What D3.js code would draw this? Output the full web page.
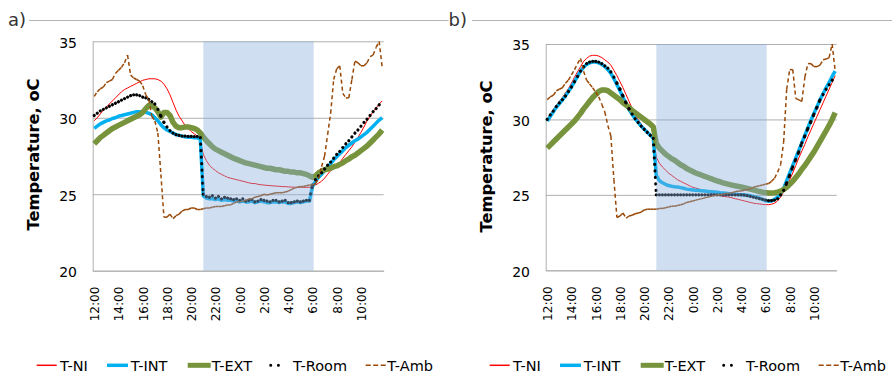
<!DOCTYPE html>
<html>
<head>
<meta charset="utf-8">
<script src="https://cdn.jsdelivr.net/npm/d3@7"></script>
<style>
body { margin: 0; background: #fff; }
svg { display: block; font-family: "DejaVu Sans", Verdana, sans-serif; }
</style>
</head>
<body>
<svg id="chart" width="892" height="389"></svg>
<script>
/* Two panels of room / panel temperatures over one day, read every 15 minutes
 * from 12:00 to 11:45 the next morning. The night (cooling) period is shaded.
 */

var timeLabels = ["12:00", "14:00", "16:00", "18:00", "20:00", "22:00",
                  "0:00", "2:00", "4:00", "6:00", "8:00", "10:00"];
var tickHours = [0, 2, 4, 6, 8, 10, 12, 14, 16, 18, 20, 22];   /* hours after 12:00 */
var stepHours = 0.25;                                            /* one reading per 15 min */
var nightHours = [9, 18.1];                                      /* shaded band, hours after 12:00 */
var yTicks = [20, 25, 30, 35];
var seriesNames = ["T-NI", "T-INT", "T-EXT", "T-Room", "T-Amb"];

/* panel a) */
var aNI = [29.8, 30.0, 30.25, 30.5, 30.7, 30.9, 31.1, 31.3, 31.5, 31.7,
    31.85, 31.95, 32.05, 32.15, 32.25, 32.35, 32.45, 32.5, 32.55, 32.55,
    32.55, 32.5, 32.4, 32.2, 31.9, 31.5, 31.0, 30.5, 30.1, 29.8,
    29.5, 29.3, 29.1, 28.95, 28.8, 28.5, 27.6, 27.2, 26.9, 26.7,
    26.55, 26.4, 26.3, 26.2, 26.1, 26.05, 26.0, 25.95, 25.9, 25.85,
    25.8, 25.75, 25.7, 25.7, 25.65, 25.62, 25.6, 25.58, 25.56, 25.55,
    25.53, 25.52, 25.5, 25.5, 25.48, 25.47, 25.46, 25.45, 25.45, 25.45,
    25.45, 25.45, 25.5, 25.6, 25.72, 25.85, 26.05, 26.3, 26.55, 26.7,
    26.85, 27.05, 27.35, 27.6, 27.85, 28.1, 28.4, 28.7, 29.05, 29.4,
    29.8, 30.1, 30.4, 30.65, 30.9, 31.1];
var aINT = [29.3, 29.45, 29.6, 29.7, 29.8, 29.85, 29.95, 30.0, 30.1, 30.15,
    30.2, 30.25, 30.3, 30.35, 30.4, 30.4, 30.4, 30.35, 30.3, 30.2,
    30.0, 29.8, 29.55, 29.35, 29.2, 29.1, 29.0, 28.9, 28.85, 28.8,
    28.75, 28.72, 28.72, 28.7, 28.7, 28.6, 24.9, 24.75, 24.7, 24.7,
    24.65, 24.7, 24.6, 24.65, 24.6, 24.6, 24.55, 24.6, 24.5, 24.55,
    24.5, 24.5, 24.55, 24.45, 24.5, 24.55, 24.5, 24.45, 24.45, 24.5,
    24.5, 24.45, 24.5, 24.5, 24.4, 24.4, 24.45, 24.5, 24.45, 24.5,
    24.55, 24.55, 25.5, 25.85, 26.1, 26.3, 26.55, 26.8, 27.0, 27.25,
    27.45, 27.65, 27.85, 28.05, 28.2, 28.35, 28.5, 28.6, 28.75, 28.9,
    29.05, 29.25, 29.45, 29.65, 29.85, 30.0];
var aEXT = [28.3, 28.5, 28.7, 28.85, 29.0, 29.15, 29.3, 29.4, 29.5, 29.6,
    29.7, 29.8, 29.9, 30.0, 30.1, 30.2, 30.35, 30.6, 30.8, 30.8,
    30.65, 30.4, 30.05, 30.35, 30.35, 30.15, 29.7, 29.45, 29.35, 29.35,
    29.4, 29.4, 29.35, 29.3, 29.2, 29.0, 28.75, 28.5, 28.3, 28.1,
    27.95, 27.85, 27.75, 27.65, 27.55, 27.45, 27.35, 27.28, 27.2, 27.12,
    27.05, 27.0, 26.95, 26.9, 26.85, 26.8, 26.75, 26.7, 26.7, 26.65,
    26.6, 26.6, 26.55, 26.5, 26.5, 26.45, 26.45, 26.4, 26.4, 26.35,
    26.3, 26.2, 26.1, 26.2, 26.4, 26.5, 26.6, 26.65, 26.7, 26.8,
    26.85, 26.95, 27.05, 27.2, 27.3, 27.45, 27.55, 27.7, 27.85, 28.0,
    28.15, 28.35, 28.55, 28.75, 28.95, 29.2];
var aRoom = [30.15, 30.3, 30.45, 30.55, 30.65, 30.75, 30.85, 30.95, 31.05, 31.15,
    31.25, 31.35, 31.45, 31.5, 31.5, 31.45, 31.35, 31.3, 31.2, 31.05,
    30.9, 30.55, 30.1, 29.7, 29.4, 29.15, 29.0, 28.9, 28.85, 28.8,
    28.8, 28.78, 28.78, 28.77, 28.77, 28.7, 25.0, 24.85, 24.8, 24.9,
    24.75, 24.85, 24.7, 24.8, 24.75, 24.7, 24.65, 24.7, 24.6, 24.7,
    24.55, 24.6, 24.65, 24.5, 24.55, 24.65, 24.6, 24.55, 24.5, 24.6,
    24.6, 24.5, 24.55, 24.6, 24.45, 24.45, 24.5, 24.55, 24.5, 24.55,
    24.6, 24.6, 25.6, 25.95, 26.2, 26.4, 26.65, 26.9, 27.1, 27.35,
    27.6, 27.8, 28.05, 28.3, 28.5, 28.75, 29.0, 29.2, 29.45, 29.7,
    29.9, 30.15, 30.4, 30.6, 30.85, 31.05];
var aAmb = [31.4, 31.7, 31.9, 32.0, 32.3, 32.4, 32.5, 32.9, 33.1, 33.3,
    33.6, 34.1, 32.8, 32.6, 32.5, 32.4, 32.1, 31.5, 31.2, 30.1,
    29.8, 29.0, 26.3, 23.5, 23.5, 23.7, 23.4, 23.6, 23.7, 23.9,
    24.0, 24.0, 24.1, 24.1, 24.0, 24.0, 24.05, 24.1, 24.1, 24.15,
    24.2, 24.2, 24.2, 24.25, 24.3, 24.3, 24.4, 24.5, 24.5, 24.55,
    24.6, 24.7, 24.7, 24.8, 24.85, 24.9, 25.0, 24.95, 25.0, 25.05,
    25.1, 25.1, 25.1, 25.15, 25.2, 25.3, 25.4, 25.45, 25.5, 25.5,
    25.55, 25.6, 25.6, 25.7, 26.0, 26.8, 27.5, 28.9, 30.3, 32.5,
    33.2, 33.4, 31.6, 31.3, 31.3, 32.5, 33.7, 33.6, 33.4, 33.4,
    33.6, 34.0, 34.1, 34.6, 35.0, 33.3];

/* panel b) */
var bNI = [30.0, 30.35, 30.65, 30.95, 31.2, 31.45, 31.75, 32.05, 32.4, 32.8,
    33.15, 33.5, 33.85, 34.05, 34.2, 34.25, 34.25, 34.2, 34.1, 33.95,
    33.8, 33.6, 33.25, 32.9, 32.5, 32.1, 31.65, 31.2, 30.75, 30.35,
    30.0, 29.7, 29.4, 29.15, 28.95, 28.75, 27.5, 27.1, 26.85, 26.65,
    26.45, 26.3, 26.15, 26.0, 25.9, 25.8, 25.7, 25.6, 25.5, 25.45,
    25.4, 25.3, 25.25, 25.2, 25.1, 25.05, 25.0, 24.95, 24.9, 24.88,
    24.85, 24.8, 24.75, 24.7, 24.65, 24.6, 24.55, 24.5, 24.45, 24.42,
    24.4, 24.37, 24.35, 24.35, 24.38, 24.45, 24.6, 24.85, 25.2, 25.6,
    26.0, 26.45, 26.95, 27.45, 27.9, 28.35, 28.85, 29.3, 29.75, 30.2,
    30.65, 31.1, 31.55, 32.0, 32.45, 32.9];
var bINT = [29.9, 30.2, 30.5, 30.8, 31.05, 31.3, 31.55, 31.85, 32.15, 32.5,
    32.85, 33.2, 33.45, 33.65, 33.75, 33.8, 33.8, 33.75, 33.65, 33.5,
    33.3, 33.05, 32.7, 32.3, 31.9, 31.45, 31.05, 30.65, 30.35, 30.05,
    29.8, 29.55, 29.35, 29.15, 28.95, 28.75, 26.3, 25.95, 25.8, 25.7,
    25.62, 25.57, 25.54, 25.52, 25.48, 25.44, 25.38, 25.35, 25.33, 25.31,
    25.29, 25.27, 25.25, 25.23, 25.21, 25.19, 25.17, 25.14, 25.12, 25.1,
    25.08, 25.06, 25.04, 25.02, 25.01, 25.0, 24.97, 24.94, 24.9, 24.85,
    24.78, 24.7, 24.62, 24.58, 24.6, 24.7, 24.85, 25.1, 25.45, 25.95,
    26.45, 26.95, 27.45, 27.95, 28.45, 28.95, 29.45, 29.95, 30.4, 30.85,
    31.3, 31.7, 32.1, 32.45, 32.85, 33.2];
var bEXT = [28.1, 28.3, 28.5, 28.7, 28.9, 29.1, 29.3, 29.5, 29.7, 29.9,
    30.15, 30.4, 30.7, 30.95, 31.2, 31.45, 31.65, 31.85, 31.95, 31.95,
    31.9, 31.75, 31.6, 31.45, 31.3, 31.1, 30.95, 30.8, 30.6, 30.45,
    30.3, 30.15, 30.0, 29.85, 29.7, 29.5, 28.4, 28.1, 27.9, 27.7,
    27.55, 27.4, 27.3, 27.15, 27.0, 26.9, 26.75, 26.65, 26.55, 26.45,
    26.38, 26.3, 26.22, 26.15, 26.08, 26.0, 25.93, 25.87, 25.8, 25.75,
    25.7, 25.65, 25.6, 25.56, 25.52, 25.48, 25.43, 25.38, 25.33, 25.28,
    25.22, 25.18, 25.15, 25.13, 25.12, 25.14, 25.18, 25.25, 25.35, 25.5,
    25.7, 25.9, 26.15, 26.4, 26.7, 26.95, 27.25, 27.55, 27.85, 28.2,
    28.55, 28.9, 29.25, 29.6, 30.0, 30.45];
var bRoom = [30.0, 30.3, 30.55, 30.85, 31.1, 31.3, 31.55, 31.85, 32.15, 32.5,
    32.85, 33.2, 33.5, 33.7, 33.8, 33.85, 33.85, 33.8, 33.7, 33.55,
    33.4, 33.15, 32.8, 32.4, 32.0, 31.55, 31.1, 30.7, 30.35, 30.05,
    29.8, 29.55, 29.35, 29.15, 28.95, 28.75, 25.0, 25.0, 25.0, 25.0,
    25.0, 25.0, 25.0, 25.0, 25.0, 25.0, 25.0, 25.0, 25.0, 25.0,
    25.0, 25.0, 25.0, 25.0, 25.0, 25.0, 25.0, 25.0, 25.0, 25.0,
    25.0, 25.0, 25.0, 25.0, 25.0, 24.98, 24.95, 24.9, 24.85, 24.8,
    24.75, 24.7, 24.65, 24.62, 24.62, 24.65, 24.75, 25.0, 25.3, 25.8,
    26.3, 26.85, 27.35, 27.85, 28.45, 28.9, 29.4, 29.85, 30.35, 30.8,
    31.3, 31.65, 32.0, 32.3, 32.6, 32.95];
var bAmb = [31.3, 31.5, 31.6, 31.9, 32.0, 32.1, 32.4, 32.6, 32.95, 33.3,
    33.7, 34.05, 33.2, 32.6, 32.35, 32.1, 31.8, 31.5, 31.0, 30.5,
    29.6, 28.9, 26.0, 23.5, 23.6, 23.8, 23.45, 23.6, 23.65, 23.75,
    23.8, 23.85, 24.0, 24.05, 24.05, 24.05, 24.05, 24.1, 24.1, 24.15,
    24.2, 24.25, 24.25, 24.3, 24.35, 24.4, 24.5, 24.55, 24.6, 24.65,
    24.7, 24.75, 24.8, 24.85, 24.9, 24.95, 25.0, 25.0, 25.05, 25.1,
    25.1, 25.15, 25.2, 25.25, 25.25, 25.3, 25.35, 25.4, 25.5, 25.55,
    25.6, 25.65, 25.7, 25.75, 25.9, 26.1, 26.5, 27.0, 28.5, 32.0,
    33.3, 33.3, 31.4, 31.3, 31.2, 32.8, 33.7, 33.7, 33.5, 33.5,
    33.6, 33.95, 34.0, 34.1, 35.0, 33.2];

/* line styles, in drawing (and legend) order. Dashed styles restart on every
 * segment, as the spreadsheet did, so the short flat stretches look solid. */
var styles = [
    {color: "#ff0000", width: 1},
    {color: "#00b0f0", width: 3.5},
    {color: "#77933c", width: 5.5},
    {color: "#000000", width: 3.2, dash: "0.01,6.5", cap: "round"},
    {color: "#984807", width: 1.5, dash: "4,3", cap: "butt"}
];

/* legend keys: [key start, key end, text start], relative to the plot's left edge */
var legendPos = [[-56, -36, -32.7], [14.3, 35.3, 38], [95, 118, 119],
                 [178, 193.4, 200.3], [273, 293, 294.6]];
var legendKey = [
    {width: 1.5}, {width: 3.5}, {width: 5}, {width: 3, dash: "0.01,7.7", cap: "round"},
    {width: 1.5, dash: "5,2.5"}
];

var plotWidth = 291;

var panels = [
    {caption: "a)", captionX: 8, rule: [29, 448.5], left: 92.7, top: 41.3, bottom: 270.7,
     titleX: 39.2, titleY: 154.5, series: [aNI, aINT, aEXT, aRoom, aAmb]},
    {caption: "b)", captionX: 448.5, rule: [472, 892], left: 545.7, top: 44, bottom: 270.3,
     titleX: 491.7, titleY: 156.5, series: [bNI, bINT, bEXT, bRoom, bAmb]}
];

var hours = d3.range(aNI.length).map(function(i) { return i * stepHours; });

var svg = d3.select("#chart");

function translate(x, y) {
    return "translate(" + x + "," + y + ")";
}

function drawPanel(p) {
    var x = d3.scaleLinear()
        .domain([-stepHours / 2, 24 - stepHours / 2])   /* points sit between tick marks */
        .range([p.left, p.left + plotWidth]);
    var y = d3.scaleLinear()
        .domain([20, 35])
        .range([p.bottom, p.top]);

    var g = svg.append("g");

    /* caption with its rule */
    g.append("line")
        .attr("x1", p.rule[0]).attr("x2", p.rule[1])
        .attr("y1", 20.5).attr("y2", 20.5)
        .attr("stroke", "#b4b4b4").attr("stroke-width", 1);
    g.append("text")
        .attr("x", p.captionX).attr("y", 26)
        .attr("font-size", 18).attr("fill", "#333")
        .text(p.caption);

    /* y axis with gridlines */
    var yAxis = d3.axisLeft(y)
        .tickValues(yTicks)
        .tickSize(-plotWidth)
        .tickSizeOuter(0)
        .tickPadding(15.7);
    var ya = g.append("g")
        .attr("transform", translate(p.left, 0))
        .call(yAxis);
    ya.attr("font-family", null).attr("font-size", null);
    ya.select(".domain").attr("stroke", "#b0b0b0");
    ya.selectAll(".tick line").attr("stroke", "#b0b0b0");
    ya.selectAll(".tick text")
        .attr("font-size", 14).attr("fill", "#000")
        .attr("y", 1.5);

    /* x axis, rotated labels, no tick marks */
    var xAxis = d3.axisBottom(x)
        .tickValues(tickHours)
        .tickSize(0)
        .tickFormat(function(d, i) { return timeLabels[i]; });
    var xa = g.append("g")
        .attr("transform", translate(0, p.bottom))
        .call(xAxis);
    xa.attr("font-family", null).attr("font-size", null);
    xa.select(".domain").attr("stroke", "#b0b0b0");
    xa.selectAll(".tick text")
        .attr("font-size", 12).attr("fill", "#000")
        .attr("transform", "rotate(-90)")
        .attr("text-anchor", "end")
        .attr("x", -16).attr("y", 0).attr("dy", "0.36em");

    /* series */
    var line = d3.line()
        .x(function(d, i) { return x(hours[i]); })
        .y(function(d) { return y(d); });

    p.series.forEach(function(vals, k) {
        var s = styles[k];
        if (!s.dash) {
            g.append("path")
                .attr("d", line(vals))
                .attr("fill", "none")
                .attr("stroke", s.color)
                .attr("stroke-width", s.width)
                .attr("stroke-linejoin", "round");
        } else {
            var pts = vals.map(function(v, i) { return [x(hours[i]), y(v)]; });
            g.append("g").selectAll("line")
                .data(d3.pairs(pts))
              .enter().append("line")
                .attr("x1", function(d) { return d[0][0]; })
                .attr("y1", function(d) { return d[0][1]; })
                .attr("x2", function(d) { return d[1][0]; })
                .attr("y2", function(d) { return d[1][1]; })
                .attr("stroke", s.color)
                .attr("stroke-width", s.width)
                .attr("stroke-linecap", s.cap)
                .attr("stroke-dasharray", s.dash);
        }
    });

    /* night band, laid over the lines */
    g.append("rect")
        .attr("x", x(nightHours[0]))
        .attr("width", x(nightHours[1]) - x(nightHours[0]))
        .attr("y", p.top)
        .attr("height", p.bottom - p.top)
        .attr("fill", "rgb(135,173,218)")
        .attr("fill-opacity", 0.4);

    /* y axis title */
    g.append("text")
        .attr("transform", translate(p.titleX, p.titleY) + " rotate(-90)")
        .attr("text-anchor", "middle")
        .attr("font-size", 16.3)
        .attr("font-weight", "bold")
        .attr("fill", "#000")
        .text("Temperature, oC");

    /* legend */
    var legendY = 365.3;
    seriesNames.forEach(function(name, k) {
        var pos = legendPos[k], key = legendKey[k];
        g.append("line")
            .attr("x1", p.left + pos[0]).attr("x2", p.left + pos[1])
            .attr("y1", legendY).attr("y2", legendY)
            .attr("stroke", styles[k].color)
            .attr("stroke-width", key.width)
            .attr("stroke-linecap", key.cap || "butt")
            .attr("stroke-dasharray", key.dash || null);
        g.append("text")
            .attr("x", p.left + pos[2])
            .attr("y", legendY + 5.3)
            .attr("font-size", 14.5)
            .attr("fill", "#000")
            .text(name);
    });
}

panels.forEach(drawPanel);
</script>
</body>
</html>
